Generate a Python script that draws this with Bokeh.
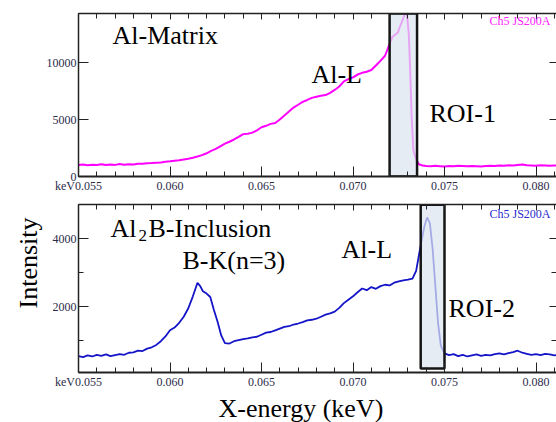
from bokeh.plotting import figure
from bokeh.layouts import column
from bokeh.models import (LinearAxis, FixedTicker, Label, Title,
                          Range1d, CustomJSTickFormatter)
from bokeh.embed import file_html
from bokeh.resources import INLINE

# ---------------- data ----------------
x_matrix = [0.05500, 0.05525, 0.05550, 0.05575, 0.05600, 0.05625, 0.05650, 0.05675,
            0.05700, 0.05725, 0.05750, 0.05775, 0.05800, 0.05825, 0.05850, 0.05875,
            0.05900, 0.05925, 0.05950, 0.05975, 0.06000, 0.06025, 0.06050, 0.06075,
            0.06100, 0.06125, 0.06150, 0.06175, 0.06200, 0.06225, 0.06250, 0.06275,
            0.06300, 0.06325, 0.06350, 0.06375, 0.06400, 0.06425, 0.06450, 0.06475,
            0.06500, 0.06525, 0.06550, 0.06575, 0.06600, 0.06625, 0.06650, 0.06675,
            0.06700, 0.06725, 0.06750, 0.06775, 0.06800, 0.06825, 0.06850, 0.06875,
            0.06900, 0.06925, 0.06950, 0.06975, 0.07000, 0.07025, 0.07050, 0.07075,
            0.07100, 0.07125, 0.07150, 0.07175, 0.07200, 0.07215, 0.07230, 0.07245,
            0.07260, 0.07275, 0.07285, 0.07295, 0.07305, 0.07312, 0.07320, 0.07330,
            0.07345, 0.07360, 0.07380, 0.07400, 0.07425, 0.07450, 0.07475, 0.07500,
            0.07525, 0.07550, 0.07575, 0.07600, 0.07625, 0.07650, 0.07675, 0.07700,
            0.07725, 0.07750, 0.07775, 0.07800, 0.07825, 0.07850, 0.07875, 0.07900,
            0.07925, 0.07950, 0.07975, 0.08000, 0.08025, 0.08050, 0.08075, 0.08100,
            0.08125]
i_matrix = [1020, 1060, 990, 1040, 1010, 1070, 1000, 1050,
            1020, 1090, 1040, 1080, 1060, 1120, 1110, 1160,
            1180, 1210, 1230, 1290, 1330, 1380, 1420, 1500,
            1560, 1650, 1760, 1880, 2040, 2250, 2420, 2650,
            2880, 3050, 3250, 3480, 3720, 3760, 3850, 4050,
            4320, 4450, 4620, 4700, 5000, 5350, 5700, 6050,
            6300, 6550, 6720, 6900, 7000, 7080, 7150, 7350,
            7600, 7900, 8350, 8550, 8700, 8950, 9100, 9200,
            9350, 9750, 10150, 10600, 11650, 12250, 12450, 12650,
            13300, 13900, 14350, 14200, 12500, 9500, 5400, 2300,
            1500, 1080, 960, 920, 900, 940, 910, 880,
            930, 900, 940, 920, 890, 930, 910, 880,
            920, 950, 930, 960, 940, 980, 960, 1010,
            1060, 990, 970, 950, 980, 960, 940, 970,
            950]

x_inclusion = [0.05500, 0.05525, 0.05550, 0.05575, 0.05600, 0.05625, 0.05650, 0.05675,
               0.05700, 0.05725, 0.05750, 0.05775, 0.05800, 0.05825, 0.05850, 0.05875,
               0.05900, 0.05925, 0.05950, 0.05975, 0.06000, 0.06025, 0.06050, 0.06075,
               0.06100, 0.06125, 0.06150, 0.06165, 0.06180, 0.06200, 0.06220, 0.06240,
               0.06260, 0.06280, 0.06300, 0.06325, 0.06350, 0.06375, 0.06400, 0.06425,
               0.06450, 0.06475, 0.06500, 0.06525, 0.06550, 0.06575, 0.06600, 0.06625,
               0.06650, 0.06675, 0.06700, 0.06725, 0.06750, 0.06775, 0.06800, 0.06825,
               0.06850, 0.06875, 0.06900, 0.06925, 0.06950, 0.06975, 0.07000, 0.07025,
               0.07050, 0.07075, 0.07100, 0.07125, 0.07150, 0.07175, 0.07200, 0.07225,
               0.07250, 0.07275, 0.07300, 0.07325, 0.07345, 0.07360, 0.07375, 0.07390,
               0.07405, 0.07420, 0.07435, 0.07450, 0.07465, 0.07480, 0.07500, 0.07525,
               0.07550, 0.07575, 0.07600, 0.07625, 0.07650, 0.07675, 0.07700, 0.07725,
               0.07750, 0.07775, 0.07800, 0.07825, 0.07850, 0.07875, 0.07900, 0.07925,
               0.07950, 0.07975, 0.08000, 0.08025, 0.08050, 0.08075, 0.08100, 0.08125]
i_inclusion = [540, 510, 560, 530, 580, 550, 590, 540,
               570, 600, 580, 640, 650, 700, 690, 760,
               800, 870, 980, 1120, 1300, 1380, 1520, 1700,
               1950, 2300, 2700, 2600, 2450, 2380, 2280, 1900,
               1550, 1150, 920, 910, 980, 1010, 1040, 1060,
               1090, 1110, 1170, 1230, 1250, 1300, 1350, 1400,
               1420, 1470, 1500, 1540, 1590, 1610, 1640, 1700,
               1760, 1800, 1850, 1960, 2100, 2200, 2300, 2420,
               2530, 2480, 2570, 2520, 2600, 2640, 2620, 2700,
               2740, 2770, 2790, 2820, 3050, 3500, 3950, 4350,
               4620, 4450, 3700, 2600, 1500, 850, 620, 570,
               600, 540, 580, 530, 560, 590, 550, 580,
               560, 600, 620, 590, 630, 660, 700, 640,
               610, 580, 600, 570, 610, 590, 560, 580]

x_ticks = [0.055, 0.060, 0.065, 0.070, 0.075, 0.080]
x_minor_ticks = [0.055 + 0.001 * k for k in range(27)]
x_unit = "keV"
y_ticks_matrix = [0, 5000, 10000]
y_ticks_inclusion = [2000, 4000]
y_minor_inclusion = [1000, 2000, 3000, 4000]

roi_1 = [0.0720, 0.0735]
roi_2 = [0.0737, 0.0750]

x_range = [0.055, 0.08112]
y_range_matrix = [0, 14310]
y_range_inclusion = [59, 5000]
roi_2_y = [176, 4990]

# ---------------- styling helpers ----------------
NARROW = "Liberation Sans Narrow"
SERIF = "Liberation Serif"
TICK_COLOR = "#2c2c4a"
AXIS_COLOR = "#222222"


def blank_axis(ticker, tick_in):
    return LinearAxis(ticker=ticker, formatter=CustomJSTickFormatter(code="return ''"),
                      major_label_standoff=0, major_tick_in=tick_in, major_tick_out=0,
                      minor_tick_in=5, minor_tick_out=0,
                      axis_line_color=AXIS_COLOR, axis_line_width=1.5,
                      major_tick_line_color=AXIS_COLOR, minor_tick_line_color=AXIS_COLOR)


def style_axes(p, yticks, yminor):
    p.xaxis.ticker = FixedTicker(ticks=x_ticks, minor_ticks=x_minor_ticks)
    p.xaxis.formatter = CustomJSTickFormatter(
        args=dict(unit=x_unit, first=x_ticks[0]),
        code="return (Math.abs(tick - first) < 1e-9 ? unit : '') + tick.toFixed(3);")
    p.yaxis.ticker = FixedTicker(ticks=yticks, minor_ticks=yminor)
    for ax in (p.xaxis[0], p.yaxis[0]):
        ax.major_tick_in = 10
        ax.major_tick_out = 0
        ax.minor_tick_in = 5
        ax.minor_tick_out = 0
        ax.major_tick_line_color = AXIS_COLOR
        ax.minor_tick_line_color = AXIS_COLOR
        ax.axis_line_color = AXIS_COLOR
        ax.major_label_text_font = NARROW
        ax.major_label_text_font_size = "12px"
        ax.major_label_text_color = TICK_COLOR
        ax.major_label_standoff = 2
    p.xaxis.axis_line_width = 2
    p.yaxis.axis_line_width = 1.5
    p.add_layout(blank_axis(FixedTicker(ticks=x_ticks, minor_ticks=x_minor_ticks), 6), "above")
    right = blank_axis(FixedTicker(ticks=yticks, minor_ticks=yminor), 7)
    right.axis_line_color = None
    p.add_layout(right, "right")
    p.xgrid.visible = False
    p.ygrid.visible = False
    p.outline_line_color = None


def txt(p, x, y, s, size="26px", font=SERIF, color="black", baseline="alphabetic",
        align="left"):
    p.add_layout(Label(x=x, y=y, text=s, text_font=font, text_font_size=size,
                       text_color=color, text_baseline=baseline, text_align=align))


# ---------------- top panel: Al-Matrix ----------------
p1 = figure(width=556, height=195, output_backend="svg", toolbar_location=None,
            x_range=Range1d(*x_range), y_range=Range1d(*y_range_matrix),
            min_border_left=78, min_border_right=0, min_border_top=13, min_border_bottom=16,
            background_fill_color="white", border_fill_color="white")
style_axes(p1, y_ticks_matrix, y_ticks_matrix)
p1.line(x_matrix, i_matrix, line_color="#ff00ff", line_width=2)
p1.quad(left=[roi_1[0]], right=[roi_1[1]], bottom=[y_range_matrix[0]], top=[y_range_matrix[1]],
        fill_color="#dde4f0", fill_alpha=0.72, line_color="#151515", line_width=2.5)

txt(p1, 0.05686, 12413, "Al-Matrix")
txt(p1, 0.06773, 8965, "Al-L")
txt(p1, 0.07418, 5517, "ROI-1")
txt(p1, 0.07746, 13620, "Ch5 JS200A", size="12px", font=NARROW, color="#ff22ff",
    baseline="middle")

# ---------------- bottom panel: Al2B-Inclusion ----------------
p2 = figure(width=556, height=227, output_backend="svg", toolbar_location=None,
            x_range=Range1d(*x_range), y_range=Range1d(*y_range_inclusion),
            min_border_left=78, min_border_right=0, min_border_top=9, min_border_bottom=50,
            background_fill_color="white", border_fill_color="white")
style_axes(p2, y_ticks_inclusion, y_minor_inclusion)
p2.line(x_inclusion, i_inclusion, line_color="#1414c8", line_width=1.8)
p2.quad(left=[roi_2[0]], right=[roi_2[1]], bottom=[roi_2_y[0]], top=[roi_2_y[1]],
        fill_color="#dde4f0", fill_alpha=0.72, line_color="#151515", line_width=2.5)

txt(p2, 0.05675, 4285, "Al")
txt(p2, 0.05828, 4080, "2", size="17px")
txt(p2, 0.058825, 4285, "B-Inclusion")
txt(p2, 0.06068, 3353, "B-K(n=3)")
txt(p2, 0.06937, 3667, "Al-L")
txt(p2, 0.07522, 1950, "ROI-2")
txt(p2, 0.07746, 4706, "Ch5 JS200A", size="12px", font=NARROW, color="#2a2ad0",
    baseline="middle")

p2.add_layout(Title(text="X-energy (keV)", align="left", offset=140, standoff=0,
                    text_font=SERIF, text_font_size="26px", text_font_style="normal",
                    text_color="black"), "below")
p2.add_layout(Title(text="Intensity", align="left", offset=64, standoff=13,
                    text_font=SERIF, text_font_size="26px", text_font_style="normal",
                    text_color="black"), "left")

layout = column(p1, p2, spacing=0)
open("out.html", "w").write(file_html(layout, INLINE))
